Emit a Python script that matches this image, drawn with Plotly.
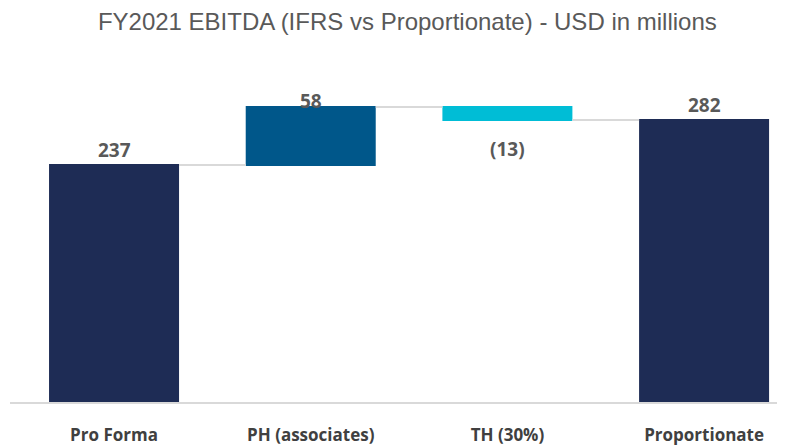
import plotly.graph_objects as go

categories = ["Pro Forma", "PH (associates)", "TH (30%)", "Proportionate"]
values = [237, 58, -13, 282]
measures = ["absolute", "relative", "relative", "total"]
labels = ["237", "58", "(13)", "282"]

# cumulative ends for label placement
ends = []
run = 0
for v, m in zip(values, measures):
    if m in ("absolute", "total"):
        run = v
    else:
        run += v
    ends.append(run)

fig = go.Figure(go.Waterfall(
    x=categories,
    y=values,
    measure=measures,
    width=[0.661] * 4,
    increasing=dict(marker=dict(color="#00578A")),
    decreasing=dict(marker=dict(color="#00BDD6")),
    totals=dict(marker=dict(color="#1E2C55")),
    connector=dict(line=dict(color="#D9D9D9", width=2)),
    hoverinfo="skip",
))

shifts = [15, 6, -29, 15]
for i, (c, t) in enumerate(zip(categories, labels)):
    fig.add_annotation(
        x=c, y=ends[i], text=t, showarrow=False,
        yanchor="middle", yshift=shifts[i],
        font=dict(family="Open Sans", size=19, color="#595959", weight="bold"),
    )

fig.update_layout(
    width=777, height=437,
    margin=dict(l=2, r=5, t=72, b=43, autoexpand=False),
    paper_bgcolor="white", plot_bgcolor="white",
    showlegend=False,
    title=dict(
        text="FY2021 EBITDA (IFRS vs Proportionate) - USD in millions",
        x=0.516, xref="paper", xanchor="center", y=0.968, yanchor="middle",
        font=dict(family="Liberation Sans, Arial", size=24, color="#595959"),
    ),
    xaxis=dict(
        range=[-0.529, 3.386],
        showgrid=False, zeroline=False, automargin=False,
        showline=True, linecolor="#D9D9D9", linewidth=2,
        ticks="", ticklabelstandoff=17,
        tickfont=dict(family="Open Sans", size=17, color="#404040", weight="bold"),
    ),
    yaxis=dict(
        range=[0, 322], visible=False, showgrid=False, zeroline=False, automargin=False,
    ),
)

fig.write_html("out.html")
